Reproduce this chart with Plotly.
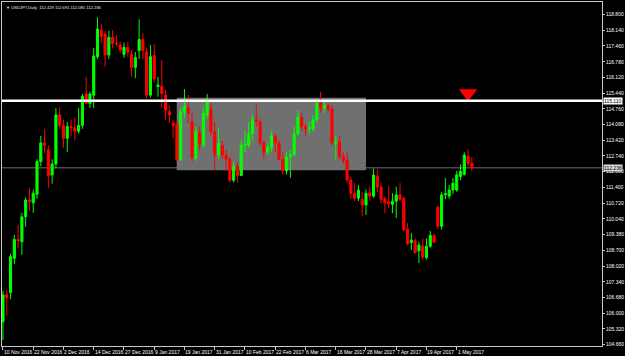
import plotly.graph_objects as go

# ---------------- data ----------------
dates = [
    "2016-11-10", "2016-11-11", "2016-11-14", "2016-11-15", "2016-11-16", "2016-11-17", "2016-11-18",
    "2016-11-21", "2016-11-22", "2016-11-23", "2016-11-24", "2016-11-25", "2016-11-28", "2016-11-29",
    "2016-11-30", "2016-12-01", "2016-12-02", "2016-12-05", "2016-12-06", "2016-12-07", "2016-12-08",
    "2016-12-09", "2016-12-12", "2016-12-13", "2016-12-14", "2016-12-15", "2016-12-16", "2016-12-19",
    "2016-12-20", "2016-12-21", "2016-12-22", "2016-12-23", "2016-12-27", "2016-12-28", "2016-12-29",
    "2016-12-30", "2017-01-03", "2017-01-04", "2017-01-05", "2017-01-06", "2017-01-09", "2017-01-10",
    "2017-01-11", "2017-01-12", "2017-01-13", "2017-01-16", "2017-01-17", "2017-01-18", "2017-01-19",
    "2017-01-20", "2017-01-23", "2017-01-24", "2017-01-25", "2017-01-26", "2017-01-27", "2017-01-30",
    "2017-01-31", "2017-02-01", "2017-02-02", "2017-02-03", "2017-02-06", "2017-02-07", "2017-02-08",
    "2017-02-09", "2017-02-10", "2017-02-13", "2017-02-14", "2017-02-15", "2017-02-16", "2017-02-17",
    "2017-02-20", "2017-02-21", "2017-02-22", "2017-02-23", "2017-02-24", "2017-02-27", "2017-02-28",
    "2017-03-01", "2017-03-02", "2017-03-03", "2017-03-06", "2017-03-07", "2017-03-08", "2017-03-09",
    "2017-03-10", "2017-03-13", "2017-03-14", "2017-03-15", "2017-03-16", "2017-03-17", "2017-03-20",
    "2017-03-21", "2017-03-22", "2017-03-23", "2017-03-24", "2017-03-27", "2017-03-28", "2017-03-29",
    "2017-03-30", "2017-03-31", "2017-04-03", "2017-04-04", "2017-04-05", "2017-04-06", "2017-04-07",
    "2017-04-10", "2017-04-11", "2017-04-12", "2017-04-13", "2017-04-14", "2017-04-17", "2017-04-18",
    "2017-04-19", "2017-04-20", "2017-04-21", "2017-04-24", "2017-04-25", "2017-04-26", "2017-04-27",
    "2017-04-28", "2017-05-01", "2017-05-02", "2017-05-03", "2017-05-04", "2017-05-05",
]

opens = [
    105.63, 106.80, 106.88, 108.35, 109.16, 109.06, 110.13, 110.85, 110.73, 111.10, 112.50, 113.30,
    113.00, 111.92, 112.40, 114.50, 114.05, 113.50, 114.00, 113.95, 113.80, 114.05, 115.40, 115.00,
    115.35, 117.00, 118.14, 117.97, 117.07, 117.83, 117.57, 117.50, 117.10, 117.40, 117.11, 116.54,
    117.26, 117.74, 117.21, 115.35, 117.05, 115.72, 115.74, 115.35, 114.64, 114.15, 114.10, 112.57,
    114.60, 114.83, 114.21, 112.64, 113.74, 113.21, 114.50, 114.74, 113.78, 112.78, 113.20, 112.78,
    112.60, 111.70, 112.30, 111.90, 113.20, 113.20, 113.70, 114.30, 114.20, 113.30, 112.90, 113.10,
    113.60, 113.30, 112.60, 112.10, 112.70, 112.80, 113.70, 114.40, 114.00, 113.90, 113.90, 114.30,
    115.00, 114.80, 114.90, 114.75, 113.30, 113.35, 112.71, 112.57, 111.71, 111.14, 110.93, 110.88,
    110.64, 111.16, 111.02, 111.88, 111.40, 110.90, 110.78, 110.66, 110.80, 111.07, 110.92, 109.61,
    109.02, 109.10, 108.67, 108.88, 108.37, 108.87, 109.33, 110.54, 109.73, 111.08, 111.02, 111.28,
    111.28, 111.86, 111.95, 112.73, 112.429,
]
highs = [
    106.95, 106.98, 108.55, 109.35, 109.78, 110.30, 110.95, 111.35, 111.30, 112.60, 113.60, 113.90,
    113.20, 112.60, 114.80, 114.85, 114.30, 114.20, 114.30, 114.40, 114.80, 115.40, 116.14, 115.50,
    117.38, 118.69, 118.40, 118.10, 118.11, 118.14, 117.93, 117.64, 117.60, 117.63, 117.29, 117.20,
    118.60, 118.00, 117.40, 117.50, 117.54, 116.14, 116.85, 115.57, 114.90, 114.30, 114.20, 114.80,
    115.61, 115.36, 114.60, 114.00, 114.00, 114.85, 115.40, 115.00, 114.20, 113.93, 113.40, 113.00,
    112.70, 112.50, 112.50, 113.40, 113.80, 114.20, 114.50, 114.95, 114.30, 113.40, 113.30, 113.80,
    113.70, 113.40, 112.90, 112.90, 113.00, 114.00, 114.70, 114.60, 114.10, 114.20, 114.50, 115.20,
    115.50, 115.10, 115.00, 114.90, 113.60, 113.60, 112.90, 112.90, 111.85, 111.58, 111.50, 111.20,
    111.30, 111.40, 112.20, 112.17, 111.60, 111.00, 111.45, 111.14, 111.42, 111.58, 111.00, 109.86,
    109.43, 109.20, 109.06, 109.20, 109.20, 109.52, 109.42, 110.60, 111.20, 111.79, 111.50, 111.79,
    112.10, 112.38, 112.90, 113.04, 112.691,
]
lows = [
    104.85, 105.90, 106.60, 108.10, 108.79, 108.50, 109.70, 110.40, 110.30, 110.90, 112.30, 112.85,
    111.35, 111.55, 112.20, 113.90, 113.10, 112.90, 113.60, 113.40, 113.70, 113.90, 114.95, 114.80,
    114.80, 116.90, 117.57, 116.57, 116.90, 117.36, 117.43, 117.15, 116.95, 117.00, 116.14, 116.07,
    116.90, 116.90, 115.20, 115.25, 115.90, 115.28, 114.80, 114.30, 114.15, 113.50, 112.50, 112.55,
    114.40, 114.14, 112.50, 112.55, 113.00, 113.10, 114.35, 113.60, 112.14, 112.60, 112.60, 112.10,
    111.60, 111.60, 111.60, 111.90, 112.90, 113.10, 113.40, 114.00, 113.20, 112.60, 112.80, 112.90,
    112.90, 112.60, 111.95, 111.95, 111.80, 112.70, 113.60, 113.80, 113.60, 113.70, 113.80, 114.20,
    114.60, 114.60, 114.60, 113.20, 112.60, 112.60, 112.40, 111.58, 110.90, 110.80, 110.80, 110.14,
    110.21, 110.80, 110.95, 111.20, 110.70, 110.29, 110.51, 110.29, 110.07, 110.80, 109.50, 108.90,
    108.70, 108.55, 108.14, 108.30, 108.30, 108.80, 108.99, 109.60, 109.57, 110.88, 110.90, 111.10,
    111.20, 111.70, 111.90, 112.30, 112.085,
]
closes = [
    106.78, 106.65, 108.42, 109.16, 109.10, 110.13, 110.85, 110.78, 111.14, 112.50, 113.30, 113.20,
    111.89, 112.40, 114.50, 114.05, 113.50, 114.00, 113.95, 113.80, 114.05, 115.30, 115.00, 115.40,
    117.03, 118.19, 117.86, 117.07, 117.83, 117.57, 117.55, 117.29, 117.40, 117.21, 116.54, 116.97,
    117.74, 117.26, 115.35, 117.00, 116.05, 115.78, 115.43, 114.71, 114.50, 114.04, 112.57, 114.64,
    114.88, 114.57, 112.68, 113.78, 113.25, 114.57, 115.07, 113.78, 112.78, 113.28, 112.78, 112.60,
    111.70, 112.30, 111.90, 113.20, 113.25, 113.70, 114.30, 114.20, 113.30, 112.90, 113.10, 113.60,
    113.30, 112.60, 112.10, 112.70, 112.80, 113.70, 114.40, 114.00, 113.90, 113.95, 114.30, 115.00,
    114.80, 114.90, 114.75, 113.30, 113.35, 112.70, 112.54, 111.71, 111.14, 110.93, 111.28, 110.64,
    111.14, 111.02, 111.92, 111.40, 110.88, 110.74, 110.68, 110.80, 111.07, 110.88, 109.57, 108.97,
    109.13, 108.60, 108.92, 108.40, 108.87, 109.33, 109.04, 109.73, 111.07, 111.12, 111.28, 111.57,
    111.93, 112.07, 112.78, 112.43, 112.236,
]

tick_dates = ["2016-11-10", "2016-11-22", "2016-12-02", "2016-12-14", "2016-12-27", "2017-01-09",
              "2017-01-19", "2017-01-31", "2017-02-10", "2017-02-22", "2017-03-06", "2017-03-16",
              "2017-03-28", "2017-04-07", "2017-04-19", "2017-05-01"]
tick_labels = ["10 Nov 2016", "22 Nov 2016", "2 Dec 2016", "14 Dec 2016", "27 Dec 2016", "9 Jan 2017",
               "19 Jan 2017", "31 Jan 2017", "10 Feb 2017", "22 Feb 2017", "6 Mar 2017", "16 Mar 2017",
               "28 Mar 2017", "7 Apr 2017", "19 Apr 2017", "1 May 2017"]

price_ticks = [118.800, 118.140, 117.460, 116.780, 116.120, 115.440, 114.760, 114.080, 113.420,
               112.740, 112.080, 111.400, 110.720, 110.040, 109.380, 108.700, 108.020, 107.340,
               106.680, 106.000, 105.320, 104.660]
price_labels = ["%.3f" % v for v in price_ticks]

title_text = "USDJPY,Daily  112.429 112.691 112.085 112.236"
level_price = 115.110          # horizontal resistance line
bid_price = 112.236            # current bid line
zone_start, zone_end = "2017-01-17", "2017-03-28"
zone_top, zone_bottom = 115.24, 112.125
signal_date, signal_price = "2017-05-04", 115.43

# ---------------- figure ----------------
idx = list(range(len(dates)))
pos = {d: i for i, d in enumerate(dates)}

GREEN = "#00ff00"
RED = "#ff0000"
AXIS = "#c8c8c8"
FONT = "Liberation Sans"

fig = go.Figure()

fig.add_trace(go.Candlestick(
    x=idx, open=opens, high=highs, low=lows, close=closes,
    increasing=dict(line=dict(color=GREEN, width=1), fillcolor=GREEN),
    decreasing=dict(line=dict(color=RED, width=1), fillcolor=RED),
    whiskerwidth=0, showlegend=False, hoverinfo="skip",
))

fig.add_trace(go.Scatter(
    x=[pos[signal_date]], y=[signal_price], mode="markers",
    marker=dict(symbol="triangle-down", size=16, color=RED, line=dict(width=0)),
    showlegend=False, hoverinfo="skip",
))

# gray zone
fig.add_shape(type="rect", xref="x", yref="y",
              x0=pos[zone_start] - 0.05, x1=pos[zone_end],
              y0=zone_bottom, y1=zone_top,
              fillcolor="rgb(112,112,112)", line=dict(width=0), layer="below")
# bid line
fig.add_shape(type="line", xref="paper", yref="y", x0=0, x1=1, y0=bid_price, y1=bid_price,
              line=dict(color="rgb(72,72,72)", width=1.5), layer="below")
# level line
fig.add_shape(type="line", xref="paper", yref="y", x0=0, x1=1, y0=level_price, y1=level_price,
              line=dict(color="#ffffff", width=2.5), layer="above")

# price tags on the axis
for p, bg in [(level_price, "#ffffff"), (bid_price, "#d8d8d8")]:
    fig.add_annotation(xref="paper", yref="y", x=1, y=p, xanchor="left", yanchor="middle",
                       xshift=1, text="%.3f" % p, showarrow=False,
                       bgcolor=bg, borderpad=0,
                       font=dict(family=FONT, size=5, color="#000000"))

# x-axis labels (left aligned at the tick, like MT4)
for d, lab in zip(tick_dates, tick_labels):
    fig.add_annotation(xref="x", yref="paper", x=pos[d], y=0, xanchor="left", yanchor="top",
                       xshift=-1, yshift=-1, text=lab, showarrow=False,
                       font=dict(family=FONT, size=5, color="#ffffff"))

# chart header
fig.add_annotation(xref="paper", yref="paper", x=0, y=1, xanchor="left", yanchor="top",
                   xshift=2, yshift=-1, text="\u25BC " + title_text, showarrow=False,
                   font=dict(family=FONT, size=4.1, color="#e8e8e8"))

fig.update_layout(
    width=625, height=356,
    margin=dict(l=1, r=21, t=2, b=10),
    paper_bgcolor="#000000", plot_bgcolor="#000000",
    boxgap=0.2,
    showlegend=False,
    xaxis=dict(
        range=[-0.26, 158.42], showgrid=False, zeroline=False,
        rangeslider=dict(visible=False),
        showline=True, linecolor=AXIS, linewidth=1, mirror=True,
        tickmode="array", tickvals=[pos[d] for d in tick_dates], ticktext=[""] * len(tick_dates),
        ticks="outside", ticklen=3, tickcolor=AXIS, tickwidth=1,
    ),
    yaxis=dict(
        range=[104.588, 119.345], side="right", showgrid=False, zeroline=False,
        showline=True, linecolor=AXIS, linewidth=1, mirror=True,
        tickmode="array", tickvals=price_ticks, ticktext=price_labels,
        ticks="outside", ticklen=2, tickcolor=AXIS, tickwidth=1,
        tickfont=dict(family=FONT, size=5, color="#ffffff"),
    ),
)

fig.write_html("out.html")
